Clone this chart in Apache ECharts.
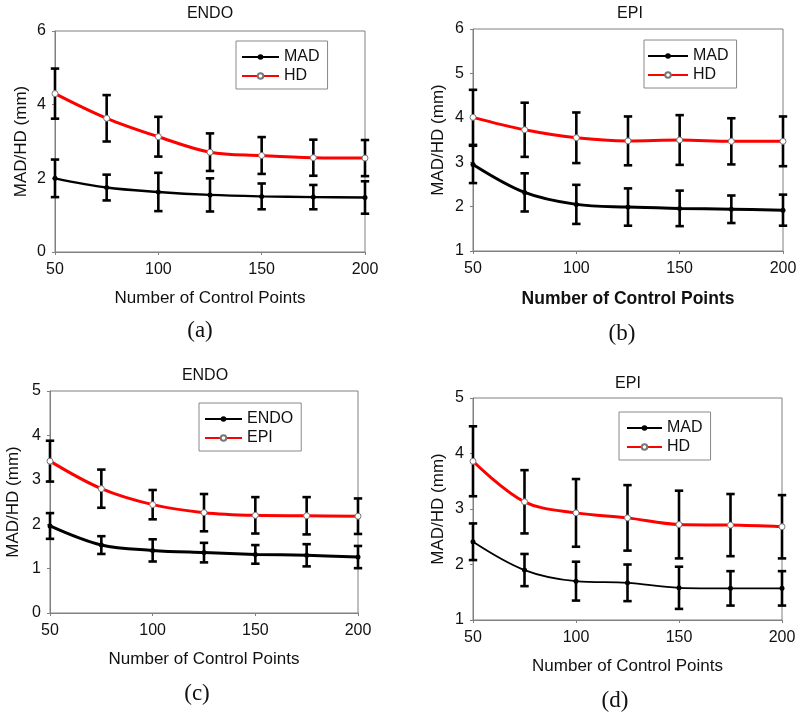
<!DOCTYPE html>
<html>
<head>
<meta charset="utf-8">
<script src="https://cdn.jsdelivr.net/npm/echarts@6/dist/echarts.min.js"></script>
<style>html,body{margin:0;padding:0;background:#fff}#c{width:800px;height:721px}</style>
</head>
<body>
<div id="c"></div>
<script>
// ---- data ----
const xPoints = [50, 75, 100, 125, 150, 175, 200];
const xTicks = [50, 100, 150, 200];

// (a) ENDO
const aMAD    = [2.00, 1.75, 1.63, 1.55, 1.51, 1.49, 1.48];
const aMADErr = [0.51, 0.35, 0.52, 0.45, 0.35, 0.33, 0.44];
const aHD     = [4.30, 3.63, 3.13, 2.71, 2.62, 2.56, 2.55];
const aHDErr  = [0.68, 0.63, 0.54, 0.51, 0.50, 0.49, 0.49];
// (b) EPI
const bMAD    = [2.95, 2.32, 2.05, 1.99, 1.96, 1.94, 1.92];
const bMADErr = [0.42, 0.43, 0.44, 0.42, 0.40, 0.31, 0.35];
const bHD     = [4.01, 3.73, 3.55, 3.48, 3.50, 3.47, 3.47];
const bHDErr  = [0.62, 0.61, 0.57, 0.55, 0.56, 0.52, 0.56];
// (c) ENDO
const cENDO    = [1.96, 1.53, 1.41, 1.36, 1.32, 1.30, 1.26];
const cENDOErr = [0.29, 0.20, 0.25, 0.22, 0.21, 0.25, 0.25];
const cEPI     = [3.42, 2.80, 2.44, 2.26, 2.20, 2.19, 2.18];
const cEPIErr  = [0.46, 0.43, 0.33, 0.42, 0.41, 0.42, 0.40];
// (d) EPI
const dMAD    = [2.41, 1.90, 1.70, 1.67, 1.58, 1.57, 1.57];
const dMADErr = [0.33, 0.29, 0.35, 0.33, 0.38, 0.31, 0.31];
const dHD     = [3.86, 3.13, 2.93, 2.84, 2.72, 2.71, 2.68];
const dHDErr  = [0.63, 0.57, 0.61, 0.59, 0.61, 0.56, 0.57];

const panelTitles = ['ENDO', 'EPI', 'ENDO', 'EPI'];
const captions = ['(a)', '(b)', '(c)', '(d)'];
const yRanges = [[0, 6, 2], [1, 6, 1], [0, 5, 1], [1, 5, 1]];
const xName = 'Number of Control Points';
const yName = 'MAD/HD (mm)';

// ---- layout ----
const grids = [
  {left: 55, top: 31, width: 310, height: 221},
  {left: 473, top: 29, width: 310, height: 222},
  {left: 50, top: 391, width: 308, height: 222},
  {left: 473, top: 398, width: 309, height: 222}
];
const FONT = '"Liberation Sans", Arial, sans-serif';

function pairs(vals) { return xPoints.map((x, i) => [x, vals[i]]); }
function errData(vals, errs) { return xPoints.map((x, i) => [x, vals[i], errs[i]]); }

function renderErr(params, api) {
  const x = api.value(0), y = api.value(1), e = api.value(2);
  const hi = api.coord([x, y + e]);
  const lo = api.coord([x, y - e]);
  const w = 4.2;
  const st = {stroke: '#000', lineWidth: 2.6};
  return {
    type: 'group',
    children: [
      {type: 'line', shape: {x1: hi[0], y1: hi[1], x2: lo[0], y2: lo[1]}, style: st},
      {type: 'line', shape: {x1: hi[0] - w, y1: hi[1], x2: hi[0] + w, y2: hi[1]}, style: st},
      {type: 'line', shape: {x1: lo[0] - w, y1: lo[1], x2: lo[0] + w, y2: lo[1]}, style: st}
    ]
  };
}

const panels = [
  {lo: ['MAD', aMAD, aMADErr, 2.4], hi: ['HD', aHD, aHDErr, 3]},
  {lo: ['MAD', bMAD, bMADErr, 3], hi: ['HD', bHD, bHDErr, 3]},
  {lo: ['ENDO', cENDO, cENDOErr, 3], hi: ['EPI', cEPI, cEPIErr, 3]},
  {lo: ['MAD', dMAD, dMADErr, 1.8], hi: ['HD', dHD, dHDErr, 3]}
];

const xNameGap = [38, 39, 38, 38];
const yNameGap = [25, 26, 28, 26];
const xNameStyle = [
  {fontSize: 17},
  {fontSize: 17.5, fontWeight: 'bold'},
  {fontSize: 17},
  {fontSize: 17}
];

const xAxes = [], yAxes = [], series = [];
grids.forEach((g, i) => {
  xAxes.push({
    gridIndex: i, type: 'value', min: 50, max: 200, interval: 50,
    name: xName, nameLocation: 'middle', nameGap: xNameGap[i],
    nameTextStyle: Object.assign({fontFamily: FONT, color: '#111'}, xNameStyle[i]),
    axisLine: {lineStyle: {color: '#808080', width: 1}},
    axisTick: {show: true, length: 3, lineStyle: {color: '#808080'}},
    splitLine: {show: false},
    axisLabel: {fontFamily: FONT, fontSize: 16, color: '#111', margin: 10}
  });
  const yr = yRanges[i];
  yAxes.push({
    gridIndex: i, type: 'value', min: yr[0], max: yr[1], interval: yr[2],
    name: yName, nameLocation: 'middle', nameGap: yNameGap[i], nameRotate: 90,
    nameTextStyle: {fontFamily: FONT, fontSize: 17, color: '#111'},
    axisLine: {show: true, lineStyle: {color: '#808080', width: 1}},
    axisTick: {show: true, length: 3, lineStyle: {color: '#808080'}},
    splitLine: {show: false},
    axisLabel: {fontFamily: FONT, fontSize: 16, color: '#111', margin: 9}
  });
  const p = panels[i];
  series.push({
    type: 'custom', xAxisIndex: i, yAxisIndex: i, renderItem: renderErr,
    data: errData(p.hi[1], p.hi[2]), clip: false, z: 3, silent: true
  });
  series.push({
    type: 'custom', xAxisIndex: i, yAxisIndex: i, renderItem: renderErr,
    data: errData(p.lo[1], p.lo[2]), clip: false, z: 3, silent: true
  });
  series.push({
    name: p.lo[0], type: 'line', xAxisIndex: i, yAxisIndex: i,
    data: pairs(p.lo[1]), smooth: 0.35, z: 4,
    symbol: 'circle', symbolSize: 5,
    lineStyle: {color: '#000', width: p.lo[3]},
    itemStyle: {color: '#000'}
  });
  series.push({
    name: p.hi[0], type: 'line', xAxisIndex: i, yAxisIndex: i,
    data: pairs(p.hi[1]), smooth: 0.35, z: 4,
    symbol: 'circle', symbolSize: 6,
    lineStyle: {color: '#ff0000', width: p.hi[3]},
    itemStyle: {color: '#fff', borderColor: '#777', borderWidth: 1}
  });
});

const legendPos = [
  {left: 236, top: 41, itemWidth: 37, pad: [8, 8, 5, 5]},
  {left: 644, top: 40, itemWidth: 40, pad: [8, 8, 5, 3]},
  {left: 199, top: 403, itemWidth: 37, pad: [8, 8, 5, 5]},
  {left: 619, top: 412, itemWidth: 35, pad: [8, 8, 5, 7]}
];
const legends = legendPos.map((l, i) => ({
  left: l.left, top: l.top, orient: 'vertical',
  data: [panels[i].lo[0], panels[i].hi[0]],
  itemWidth: l.itemWidth, itemHeight: 7, itemGap: 3,
  padding: l.pad, borderColor: '#888', borderWidth: 1,
  selectedMode: false,
  textStyle: {fontFamily: FONT, fontSize: 16, color: '#111'}
}));

const titlePos = [[210, 6], [630, 6], [205, 368], [628, 376]];
const captionPos = [[200, 319], [622, 322], [197, 682], [615, 689]];
const titles = [];
titlePos.forEach((t, i) => titles.push({
  text: panelTitles[i], left: t[0], top: t[1], textAlign: 'center', padding: 0,
  textStyle: {fontFamily: FONT, fontSize: 16, fontWeight: 'normal', color: '#111'}
}));
captionPos.forEach((t, i) => titles.push({
  text: captions[i], left: t[0], top: t[1], textAlign: 'center', padding: 0,
  textStyle: {fontFamily: '"Liberation Serif", "DejaVu Serif", serif', fontSize: 23, fontWeight: 'normal', color: '#111'}
}));

const chart = echarts.init(document.getElementById('c'), null, {renderer: 'canvas'});
chart.setOption({
  animation: false,
  backgroundColor: '#fff',
  title: titles,
  legend: legends,
  grid: grids.map(g => Object.assign({show: true, borderColor: '#808080', borderWidth: 1, backgroundColor: 'transparent', containLabel: false}, g)),
  xAxis: xAxes,
  yAxis: yAxes,
  series: series
});
</script>
</body>
</html>
